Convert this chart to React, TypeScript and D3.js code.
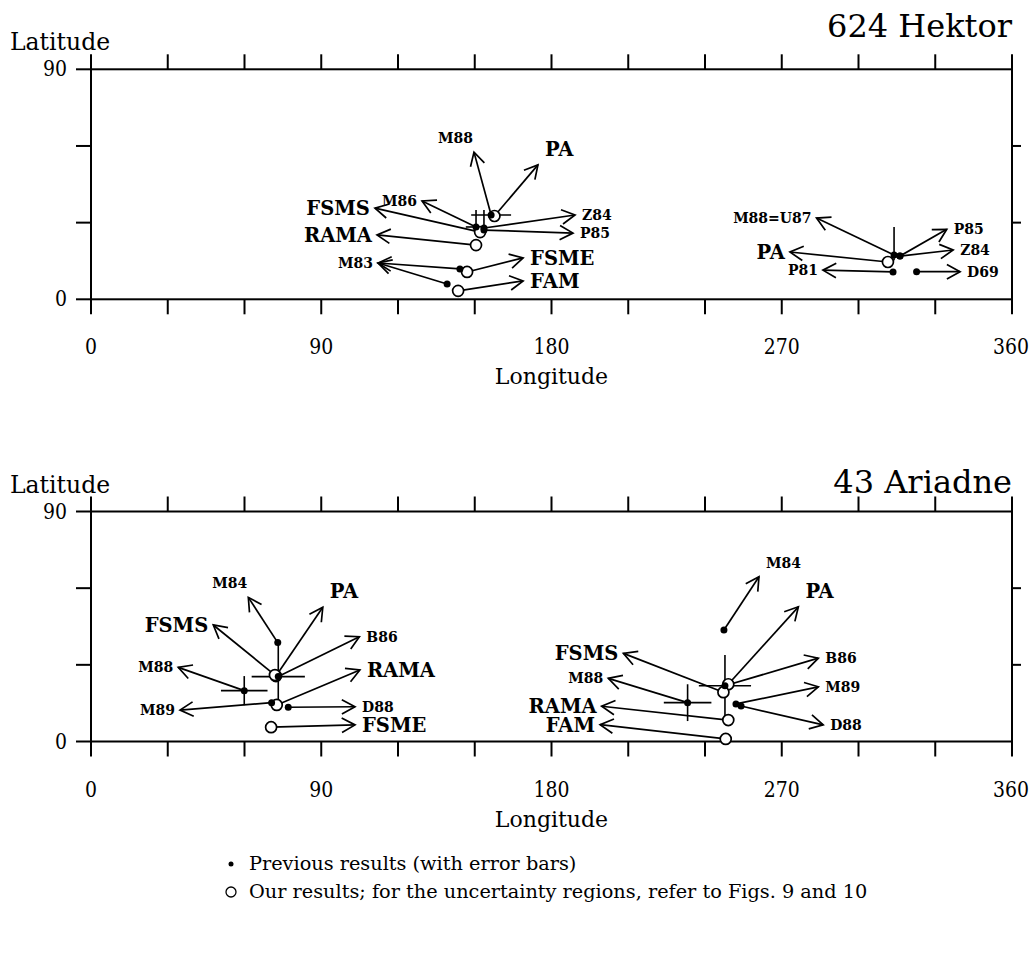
import React from 'react';
import * as d3 from 'd3';

type Kind = 'prev' | 'ours';
type Side = 'l' | 'r' | 'tl' | 'tr';
interface Mark {
  label: string; kind: Kind; lon: number; lat: number;
  lonErr: number; latUp: number; latDown: number; tipLon: number; tipLat: number; side: Side;
}

const lonTicks = [0, 30, 60, 90, 120, 150, 180, 210, 240, 270, 300, 330, 360];
const lonLabels = [0, 90, 180, 270, 360];
const latTicks = [0, 30, 60, 90];
const latLabels = [0, 90];

const hektorMarks: Mark[] = [
  { label: 'M88', kind: 'prev', lon: 156.4, lat: 33.0, lonErr: 7.8, latUp: 0, latDown: 0, tipLon: 149.7, tipLat: 57.6, side: 'tl' },
  { label: 'PA', kind: 'ours', lon: 157.7, lat: 32.6, lonErr: 0, latUp: 0, latDown: 0, tipLon: 174.7, tipLat: 52.6, side: 'tr' },
  { label: 'M86', kind: 'prev', lon: 150.5, lat: 28.3, lonErr: 4, latUp: 6.6, latDown: 2, tipLon: 129.4, tipLat: 38.5, side: 'l' },
  { label: 'Z84', kind: 'prev', lon: 153.6, lat: 27.9, lonErr: 0, latUp: 7, latDown: 1.6, tipLon: 189.2, tipLat: 33.0, side: 'r' },
  { label: 'P85', kind: 'prev', lon: 153.6, lat: 27.1, lonErr: 0, latUp: 0, latDown: 0, tipLon: 188.4, tipLat: 25.9, side: 'r' },
  { label: 'FSMS', kind: 'ours', lon: 152.1, lat: 26.3, lonErr: 0, latUp: 0, latDown: 0, tipLon: 111.0, tipLat: 35.7, side: 'l' },
  { label: 'RAMA', kind: 'ours', lon: 150.5, lat: 21.2, lonErr: 0, latUp: 0, latDown: 0, tipLon: 111.8, tipLat: 25.2, side: 'l' },
  { label: 'M83', kind: 'prev', lon: 144.2, lat: 11.9, lonErr: 0, latUp: 0, latDown: 0, tipLon: 112.2, tipLat: 14.2, side: 'l' },
  { label: 'M83', kind: 'prev', lon: 139.2, lat: 6.0, lonErr: 0, latUp: 0, latDown: 0, tipLon: 112.2, tipLat: 14.2, side: 'l' },
  { label: 'FSME', kind: 'ours', lon: 147.0, lat: 10.7, lonErr: 0, latUp: 0, latDown: 0, tipLon: 168.9, tipLat: 16.2, side: 'r' },
  { label: 'FAM', kind: 'ours', lon: 143.5, lat: 3.3, lonErr: 0, latUp: 0, latDown: 0, tipLon: 168.9, tipLat: 7.2, side: 'r' },
  { label: 'M88=U87', kind: 'prev', lon: 313.9, lat: 17.3, lonErr: 0, latUp: 11, latDown: 2, tipLon: 283.6, tipLat: 31.8, side: 'l' },
  { label: 'PA', kind: 'ours', lon: 311.5, lat: 14.6, lonErr: 0, latUp: 0, latDown: 0, tipLon: 273.2, tipLat: 18.5, side: 'l' },
  { label: 'P85', kind: 'prev', lon: 316.2, lat: 16.9, lonErr: 0, latUp: 0, latDown: 0, tipLon: 334.5, tipLat: 27.4, side: 'r' },
  { label: 'Z84', kind: 'prev', lon: 316.2, lat: 16.9, lonErr: 0, latUp: 0, latDown: 0, tipLon: 337.0, tipLat: 19.3, side: 'r' },
  { label: 'P81', kind: 'prev', lon: 313.5, lat: 10.7, lonErr: 0, latUp: 0, latDown: 0, tipLon: 286.1, tipLat: 11.4, side: 'l' },
  { label: 'D69', kind: 'prev', lon: 322.7, lat: 10.8, lonErr: 0, latUp: 0, latDown: 0, tipLon: 339.7, tipLat: 10.8, side: 'r' },
];

const ariadneMarks: Mark[] = [
  { label: 'M84', kind: 'prev', lon: 73.0, lat: 38.7, lonErr: 0, latUp: 0, latDown: 0, tipLon: 61.5, tipLat: 56.4, side: 'tl' },
  { label: 'PA', kind: 'ours', lon: 72.3, lat: 25.6, lonErr: 0, latUp: 0, latDown: 0, tipLon: 90.6, tipLat: 52.5, side: 'tr' },
  { label: 'FSMS', kind: 'ours', lon: 71.9, lat: 26.0, lonErr: 0, latUp: 0, latDown: 0, tipLon: 47.8, tipLat: 45.6, side: 'l' },
  { label: 'B86', kind: 'prev', lon: 73.2, lat: 25.4, lonErr: 10.4, latUp: 13.3, latDown: 11.7, tipLon: 104.9, tipLat: 41.0, side: 'r' },
  { label: 'M88', kind: 'prev', lon: 59.9, lat: 19.9, lonErr: 9.1, latUp: 5.7, latDown: 5.7, tipLon: 34.1, tipLat: 29.0, side: 'l' },
  { label: 'M89', kind: 'prev', lon: 70.6, lat: 15.2, lonErr: 0, latUp: 0, latDown: 0, tipLon: 34.8, tipLat: 12.3, side: 'l' },
  { label: 'RAMA', kind: 'ours', lon: 72.6, lat: 14.3, lonErr: 0, latUp: 0, latDown: 0, tipLon: 105.1, tipLat: 28.0, side: 'r' },
  { label: 'D88', kind: 'prev', lon: 77.1, lat: 13.4, lonErr: 0, latUp: 0, latDown: 0, tipLon: 103.2, tipLat: 13.6, side: 'r' },
  { label: 'FSME', kind: 'ours', lon: 70.4, lat: 5.6, lonErr: 0, latUp: 0, latDown: 0, tipLon: 103.2, tipLat: 6.5, side: 'r' },
  { label: 'M84', kind: 'prev', lon: 247.4, lat: 43.6, lonErr: 0, latUp: 0, latDown: 0, tipLon: 261.1, tipLat: 64.5, side: 'tr' },
  { label: 'PA', kind: 'ours', lon: 249.1, lat: 22.4, lonErr: 0, latUp: 0, latDown: 0, tipLon: 276.5, tipLat: 52.7, side: 'tr' },
  { label: 'FSMS', kind: 'ours', lon: 247.2, lat: 19.3, lonErr: 0, latUp: 0, latDown: 0, tipLon: 208.1, tipLat: 34.5, side: 'l' },
  { label: 'B86', kind: 'prev', lon: 247.8, lat: 21.8, lonErr: 10.2, latUp: 12, latDown: 12.7, tipLon: 284.3, tipLat: 32.6, side: 'r' },
  { label: 'M88', kind: 'prev', lon: 233.2, lat: 15.2, lonErr: 9.3, latUp: 7.2, latDown: 7.2, tipLon: 202.2, tipLat: 24.7, side: 'l' },
  { label: 'M89', kind: 'prev', lon: 252.1, lat: 14.7, lonErr: 0, latUp: 0, latDown: 0, tipLon: 284.3, tipLat: 21.4, side: 'r' },
  { label: 'D88', kind: 'prev', lon: 254.1, lat: 13.9, lonErr: 0, latUp: 0, latDown: 0, tipLon: 286.2, tipLat: 6.5, side: 'r' },
  { label: 'RAMA', kind: 'ours', lon: 249.1, lat: 8.4, lonErr: 0, latUp: 0, latDown: 0, tipLon: 199.6, tipLat: 13.8, side: 'l' },
  { label: 'FAM', kind: 'ours', lon: 248.1, lat: 1.0, lonErr: 0, latUp: 0, latDown: 0, tipLon: 199.0, tipLat: 6.6, side: 'l' },
];

const legendItems = [
  { kind: 'prev', text: 'Previous results (with error bars)' },
  { kind: 'ours', text: 'Our results; for the uncertainty regions, refer to Figs. 9 and 10' },
];

const FONT = "'DejaVu Serif', serif";
const LEFT = 91;
const WIDTH = 921;
const HEIGHT = 230;
const TICK = 15;

function Panel({ top, title, titleGap, marks }: { top: number; title: string; titleGap: number; marks: Mark[] }) {
  const x = d3.scaleLinear().domain([0, 360]).range([LEFT, LEFT + WIDTH]);
  const y = d3.scaleLinear().domain([0, 90]).range([top + HEIGHT, top]);
  const bottom = top + HEIGHT;
  const right = LEFT + WIDTH;
  const seen = new Set<string>();
  const arrows = marks.map((m, i) => {
    const x0 = x(m.lon), y0 = y(m.lat), x1 = x(m.tipLon), y1 = y(m.tipLat);
    const ang = Math.atan2(y1 - y0, x1 - x0);
    const L = 15, a = 0.5;
    const h1 = [x1 - L * Math.cos(ang - a), y1 - L * Math.sin(ang - a)];
    const h2 = [x1 - L * Math.cos(ang + a), y1 - L * Math.sin(ang + a)];
    return (
      <g key={'a' + i}>
        <line x1={x0} y1={y0} x2={x1} y2={y1} stroke="#000" strokeWidth={1.7} />
        <polyline points={`${h1[0]},${h1[1]} ${x1},${y1} ${h2[0]},${h2[1]}`} fill="none" stroke="#000" strokeWidth={1.7} />
      </g>
    );
  });
  const labels = marks.map((m, i) => {
    const key = m.label + m.tipLon + m.tipLat;
    if (seen.has(key)) return null;
    seen.add(key);
    const big = m.kind === 'ours';
    const fs = big ? 19.5 : 14;
    const tx = x(m.tipLon), ty = y(m.tipLat);
    let px = tx, py = ty + fs * 0.36, anchor: 'start' | 'end' = 'start';
    if (m.side === 'l') { px = tx - 5; anchor = 'end'; }
    else if (m.side === 'r') { px = tx + 7; }
    else if (m.side === 'tl') { px = tx - 1; py = ty - 9; anchor = 'end'; }
    else { px = tx + 7; py = ty - 9; }
    return (
      <text key={'l' + i} x={px} y={py} textAnchor={anchor} fontFamily={FONT} fontSize={fs} fontWeight="bold">{m.label}</text>
    );
  });
  const errs = marks.filter(m => m.lonErr > 0 || m.latUp > 0 || m.latDown > 0).map((m, i) => (
    <g key={'e' + i} stroke="#000" strokeWidth={1.6}>
      {m.lonErr > 0 && <line x1={x(m.lon - m.lonErr)} x2={x(m.lon + m.lonErr)} y1={y(m.lat)} y2={y(m.lat)} />}
      {(m.latUp > 0 || m.latDown > 0) && <line x1={x(m.lon)} x2={x(m.lon)} y1={y(m.lat - m.latDown)} y2={y(m.lat + m.latUp)} />}
    </g>
  ));
  const circles = marks.filter(m => m.kind === 'ours').map((m, i) => (
    <circle key={'c' + i} cx={x(m.lon)} cy={y(m.lat)} r={5.5} fill="#fff" stroke="#000" strokeWidth={1.7} />
  ));
  const dots = marks.filter(m => m.kind === 'prev').map((m, i) => (
    <circle key={'d' + i} cx={x(m.lon)} cy={y(m.lat)} r={3.5} fill="#000" />
  ));
  return (
    <g>
      <text x={right} y={top - titleGap} textAnchor="end" fontFamily={FONT} fontSize={32}>{title}</text>
      <text x={10} y={top - 19} fontFamily={FONT} fontSize={23.5}>Latitude</text>
      <rect x={LEFT} y={top} width={WIDTH} height={HEIGHT} fill="none" stroke="#000" strokeWidth={2} />
      {lonTicks.map(t => (
        <g key={'lt' + t} stroke="#000" strokeWidth={2}>
          <line x1={x(t)} x2={x(t)} y1={top} y2={top - TICK} />
          <line x1={x(t)} x2={x(t)} y1={bottom} y2={bottom + TICK} />
        </g>
      ))}
      {latTicks.map(t => (
        <g key={'at' + t} stroke="#000" strokeWidth={2}>
          <line x1={LEFT} x2={LEFT - TICK} y1={y(t)} y2={y(t)} />
          {t > 0 && t < 90 && <line x1={right} x2={right + 9} y1={y(t)} y2={y(t)} />}
        </g>
      ))}
      {lonLabels.map(t => (
        <text key={'ll' + t} transform={`translate(${x(t) - (t === 360 ? 1 : 0)},${bottom + 55}) scale(0.82,1)`}
          textAnchor="middle" fontFamily={FONT} fontSize={23}>{t}</text>
      ))}
      {latLabels.map(t => (
        <text key={'al' + t} transform={`translate(${LEFT - 24},${y(t) + 7}) scale(0.82,1)`}
          textAnchor="end" fontFamily={FONT} fontSize={23}>{t}</text>
      ))}
      <text x={x(180)} y={bottom + 85} textAnchor="middle" fontFamily={FONT} fontSize={22}>Longitude</text>
      {arrows}
      {errs}
      {circles}
      {dots}
      {labels}
    </g>
  );
}

export default function App() {
  return (
    <svg width={1031} height={969} style={{ position: 'absolute', left: 0, top: 0, background: '#fff' }}>
      <rect x={0} y={0} width={1031} height={969} fill="#fff" />
      <Panel top={69.3} title="624 Hektor" titleGap={32} marks={hektorMarks} />
      <Panel top={511.5} title="43 Ariadne" titleGap={19} marks={ariadneMarks} />
      {legendItems.map((it, i) => (
        <g key={'lg' + i}>
          {it.kind === 'prev'
            ? <circle cx={231} cy={864 + i * 28} r={2.5} fill="#000" />
            : <circle cx={231} cy={864 + i * 28} r={5} fill="#fff" stroke="#000" strokeWidth={1.3} />}
          <text x={249} y={870 + i * 28} fontFamily={FONT} fontSize={19.3}>{it.text}</text>
        </g>
      ))}
    </svg>
  );
}
